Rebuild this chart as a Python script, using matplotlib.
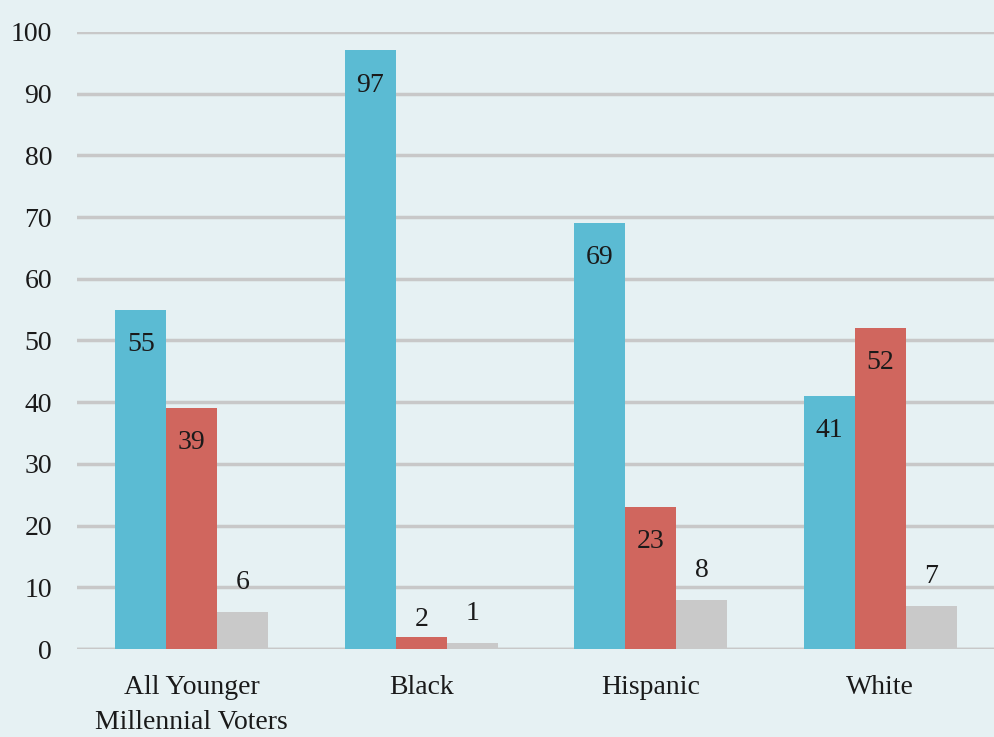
import numpy as np
import matplotlib.pyplot as plt

# Vote share by group
groups = ["All Younger\nMillennial Voters", "Black", "Hispanic", "White"]
clinton = [55, 97, 69, 41]
trump = [39, 2, 23, 52]
other = [6, 1, 8, 7]

bg = "#e6f1f3"
colors = ["#5bbbd3", "#d0665e", "#c9c9c9"]

plt.rcParams['font.family'] = ['Liberation Serif', 'DejaVu Serif']

fig = plt.figure(figsize=(9.95, 7.37), dpi=100, facecolor=bg)
ax = fig.add_axes([0.0774, 0.1194, 0.9226, 0.8372])
ax.set_facecolor(bg)

x = np.arange(len(groups))
w = 0.222
fs = 20
for i, (vals, c) in enumerate(zip([clinton, trump, other], colors)):
    pos = x + (i - 1) * w
    ax.bar(pos, vals, width=w, color=c, zorder=3)
    for xp, v in zip(pos, vals):
        if v >= 10:
            ty = v - 5.6
        elif i == 1:
            ty = v + 2.8
        else:
            ty = v + 4.8
        ax.text(xp, ty, str(v), ha='center', va='center', fontsize=fs, color='#1a1a1a', zorder=4)

ax.set_xlim(-0.5, len(groups) - 0.5)
ax.set_ylim(0, 100)
ax.set_yticks(range(0, 101, 10))
ax.yaxis.grid(True, color='#c8c8c8', linewidth=2.5, zorder=0)
ax.set_axisbelow(True)
for s in ax.spines.values():
    s.set_visible(False)
ax.axhline(0, color='#c8c8c8', linewidth=2.5, zorder=2)
ax.set_xticks(x)
ax.set_xticklabels(groups, fontsize=fs, linespacing=1.5)
ax.tick_params(axis='both', length=0, labelsize=fs, colors='#1a1a1a')
ax.tick_params(axis='x', pad=19)
ax.tick_params(axis='y', pad=18)

fig.savefig("out.png", dpi=100, facecolor=bg)
